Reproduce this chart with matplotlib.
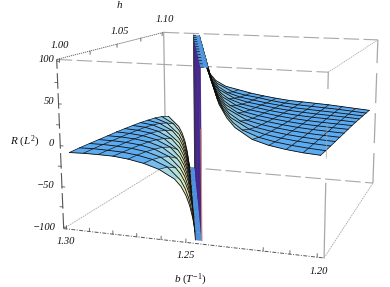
import numpy as np
import matplotlib
matplotlib.use("Agg")
import matplotlib.pyplot as plt
from matplotlib.colors import to_rgba

plt.rcParams["font.family"] = ["Liberation Serif", "DejaVu Serif"]
plt.rcParams["mathtext.fontset"] = "custom"
plt.rcParams["mathtext.rm"] = "Liberation Serif"
plt.rcParams["mathtext.it"] = "Liberation Serif:italic"

# plot box
b_lim = (1.3012, 1.1975)
h_lim = (0.998, 1.102)
r_lim = (-102, 102)

# data
h_rows = [1.0000, 1.0083, 1.0167, 1.0250, 1.0333, 1.0417, 1.0500, 1.0583, 1.0667, 1.0750, 1.0833, 1.0917, 1.1000]
pole_b = [1.2444, 1.2478, 1.2512, 1.2546, 1.2579, 1.2613, 1.2647, 1.2681, 1.2715, 1.2749, 1.2782, 1.2816, 1.2850]
end_left = [1.2470, 1.2504, 1.2538, 1.2571, 1.2605, 1.2639, 1.2673, 1.2706, 1.2740, 1.2774, 1.2808, 1.2841, 1.2875]
end_right = [1.2415, 1.2449, 1.2483, 1.2516, 1.2550, 1.2584, 1.2618, 1.2651, 1.2685, 1.2719, 1.2753, 1.2786, 1.2820]

b_left = [1.2985, 1.2925, 1.2863, 1.2800, 1.2738, 1.2675, 1.2613, 1.2550, 1.2488]
r_left = [
    [-9.0, -8.5, -8.6, -9.0, -11.0, -14.5, -20.0, -30.0, -63.0],
    [-9.0, -8.7, -9.2, -10.0, -12.2, -16.0, -23.6, -42.0, -100],
    [-9.3, -9.2, -9.9, -11.2, -13.9, -19.4, -31.0, -71.0, -100],
    [-9.8, -9.9, -10.7, -12.6, -16.5, -24.5, -45.0, -100, -100],
    [-10.2, -10.5, -11.7, -14.3, -20.0, -32.6, -79.0, -100, -100],
    [-10.5, -11.2, -13.0, -17.0, -25.4, -48.7, -100, -100, -100],
    [-11.2, -12.2, -14.8, -20.9, -34.5, -95.0, -100, -100, -100],
    [-12.0, -13.3, -17.6, -26.6, -52.4, -100, -100, -100, -100],
    [-13.0, -15.2, -21.5, -36.6, -100, -100, -100, -100, -100],
    [-14.5, -18.1, -27.5, -57.5, -100, -100, -100, -100, -100],
    [-16.2, -22.4, -38.6, -100, -100, -100, -100, -100, -100],
    [-19.0, -28.8, -62.8, -100, -100, -100, -100, -100, -100],
    [-23.5, -41.3, -100, -100, -100, -100, -100, -100, -100],
]
# where each h line reaches these R values on its way down to the pole
near_r_left = [-38, -48, -60, -75, -90]
near_b_left = [
    [1.2525, 1.2506, 1.2491, 1.2479, 1.2471],
    [1.2560, 1.2541, 1.2526, 1.2514, 1.2506],
    [1.2593, 1.2574, 1.2559, 1.2547, 1.2539],
    [1.2627, 1.2608, 1.2594, 1.2582, 1.2574],
    [1.2660, 1.2642, 1.2627, 1.2616, 1.2608],
    [1.2695, 1.2676, 1.2662, 1.2650, 1.2642],
    [1.2729, 1.2710, 1.2696, 1.2685, 1.2677],
    [1.2762, 1.2744, 1.2730, 1.2718, 1.2711],
    [1.2797, 1.2778, 1.2764, 1.2753, 1.2745],
    [1.2830, 1.2812, 1.2798, 1.2786, 1.2779],
    [1.2864, 1.2846, 1.2832, 1.2821, 1.2813],
    [1.2897, 1.2879, 1.2866, 1.2854, 1.2847],
    [1.2932, 1.2914, 1.2900, 1.2889, 1.2882],
]

b_right = [1.2000, 1.2063, 1.2125, 1.2188, 1.2250, 1.2313, 1.2375, 1.2438, 1.2500, 1.2563, 1.2625, 1.2688, 1.2750, 1.2813]
r_right = [
    [11.0, 12.3, 14.5, 17.7, 23.0, 34.5, 71.0, 100, 100, 100, 100, 100, 100, 100],
    [10.3, 11.6, 13.4, 16.0, 19.9, 27.0, 43.8, 90.0, 100, 100, 100, 100, 100, 100],
    [9.8, 11.0, 12.6, 14.8, 17.8, 22.7, 32.4, 62.6, 100, 100, 100, 100, 100, 100],
    [9.4, 10.4, 11.8, 13.7, 16.3, 19.8, 26.1, 40.6, 90.0, 100, 100, 100, 100, 100],
    [9.0, 10.0, 11.1, 12.8, 15.1, 18.0, 22.3, 30.9, 54.9, 100, 100, 100, 100, 100],
    [8.6, 9.5, 10.5, 11.9, 14.0, 16.6, 19.7, 25.3, 37.5, 88.6, 100, 100, 100, 100],
    [8.2, 9.0, 10.0, 11.2, 13.0, 15.3, 18.1, 22.0, 29.3, 49.0, 100, 100, 100, 100],
    [7.9, 8.7, 9.5, 10.6, 12.1, 14.2, 17.0, 19.9, 24.8, 35.4, 73.6, 100, 100, 100],
    [7.2, 8.3, 9.2, 10.1, 11.3, 13.2, 15.5, 18.4, 21.8, 28.3, 44.4, 100, 100, 100],
    [6.5, 7.8, 8.7, 9.6, 10.8, 12.3, 14.3, 17.3, 20.0, 24.5, 33.4, 63.9, 100, 100],
    [5.7, 7.0, 8.2, 9.2, 10.2, 11.4, 13.4, 15.7, 18.7, 21.8, 27.3, 41.0, 90.0, 100],
    [4.9, 6.3, 7.7, 8.7, 9.7, 10.8, 12.2, 14.5, 17.7, 20.2, 24.0, 31.8, 55.4, 100],
    [4.0, 5.5, 7.0, 8.5, 9.5, 10.5, 11.5, 13.5, 16.0, 19.0, 23.0, 27.0, 36.0, 90.0],
]
near_r_right = [35, 45, 60, 80]
near_b_right = [
    [1.2315, 1.2345, 1.2375, 1.2396],
    [1.2350, 1.2380, 1.2410, 1.2430],
    [1.2386, 1.2416, 1.2445, 1.2465],
    [1.2421, 1.2451, 1.2479, 1.2499],
    [1.2456, 1.2486, 1.2514, 1.2533],
    [1.2492, 1.2522, 1.2549, 1.2568],
    [1.2527, 1.2557, 1.2584, 1.2602],
    [1.2562, 1.2592, 1.2618, 1.2636],
    [1.2597, 1.2627, 1.2653, 1.2670],
    [1.2633, 1.2663, 1.2688, 1.2705],
    [1.2668, 1.2698, 1.2723, 1.2739],
    [1.2703, 1.2733, 1.2757, 1.2773],
    [1.2739, 1.2769, 1.2792, 1.2807],
]

b_ticks = [1.30, 1.29, 1.28, 1.27, 1.26, 1.25, 1.22, 1.21, 1.20]
h_ticks = [1.000, 1.025, 1.050, 1.075, 1.100]
r_ticks_major = [100, 50, 0, -50, -100]
r_ticks_minor = [75, 25, -25, -75]


def sheet_rows(b_mesh, r_mesh, near_b, near_r, end_b, end_r, r_keep):
    # each h line: flat part on the mesh, then the steep part, padded to equal length
    lines = []
    kept = []
    for i in range(len(r_mesh)):
        pts = []
        for b, r in zip(b_mesh, r_mesh[i]):
            if abs(r) < r_keep and (b - near_b[i][0]) * (b_mesh[0] - near_b[i][0]) > 0:
                pts.append((b, r))
        kept.append(len(pts))
        pts += list(zip(near_b[i], near_r))
        pts.append((end_b[i], end_r))
        lines.append(pts)
    n = max(len(p) for p in lines)
    B = np.array([[q[0] for q in p] + [p[-1][0]] * (n - len(p)) for p in lines])
    R = np.array([[q[1] for q in p] + [p[-1][1]] * (n - len(p)) for p in lines], float)
    return B, R, kept


def slope_colors(B, R, stops, cols):
    # colour each facet by how steep it is along b
    db = np.abs(np.diff(B, axis=1))
    dr = np.abs(np.diff(R, axis=1))
    slope = np.where(db > 1e-6, dr / np.maximum(db, 1e-6), 0.0)
    slope = np.maximum(slope[:-1], slope[1:])
    rgba = np.array([to_rgba(c) for c in cols])
    out = np.zeros(slope.shape + (4,))
    for k in range(4):
        out[..., k] = np.interp(slope, stops, rgba[:, k])
    return out


def mesh_lines(B, H, R, kept, z):
    # h lines all the way, b lines only while they are still on the flat part
    for i in range(B.shape[0]):
        ax.plot(B[i], H[i], R[i], color="#0a0a0a", lw=0.6, zorder=z)
    for j in range(max(kept)):
        idx = [i for i in range(B.shape[0]) if kept[i] > j]
        ax.plot(B[idx, j], H[idx, j], R[idx, j], color="#151515", lw=0.5, zorder=z)


fig = plt.figure(figsize=(3.9, 2.87), dpi=100)
ax = fig.add_subplot(projection="3d", computed_zorder=False)

hh = np.array(h_rows)
rows = len(h_rows)

B_left, R_left, kept_left = sheet_rows(b_left, r_left, near_b_left, near_r_left, end_left, -100, 36)
H_left = np.tile(hh[:, None], (1, B_left.shape[1]))
ax.plot_surface(B_left, H_left, R_left, rstride=1, cstride=1, shade=False, linewidth=0.3,
                facecolors=slope_colors(B_left, R_left,
                                        [0, 700, 1500, 2800, 5000, 9000, 20000],
                                        ["#5aaaf2", "#5fadf0", "#80c2ee", "#a8dae6", "#d2eac4", "#eee6ae", "#c8aa68"]),
                zorder=5)
mesh_lines(B_left, H_left, R_left, kept_left, 5.5)

B_right, R_right, kept_right = sheet_rows(b_right, r_right, near_b_right, near_r_right, end_right, 100, 30)
H_right = np.tile(hh[:, None], (1, B_right.shape[1]))
ax.plot_surface(B_right, H_right, R_right, rstride=1, cstride=1, shade=False, linewidth=0.3,
                facecolors=slope_colors(B_right, R_right,
                                        [0, 700, 1500, 2800, 5000, 10000],
                                        ["#5aaaf2", "#5fadf0", "#72b8ea", "#95cfe0", "#a8c8b8", "#8a9c88"]),
                zorder=6)
mesh_lines(B_right, H_right, R_right, kept_right, 6.5)

# clipped floor, ceiling and the wall through the pole
floor_b = np.array([end_left, pole_b])
floor_h = np.array([h_rows, h_rows])
ax.plot_surface(floor_b, floor_h, np.full((2, rows), -100.0), rstride=1, cstride=1, shade=False,
                color="#4a90dc", edgecolor="#4a90dc", linewidth=0.3, zorder=3)

wall_b = np.array([pole_b, pole_b])
wall_r = np.array([[-100.0] * rows, [100.0] * rows])
ax.plot_surface(wall_b, floor_h, wall_r, rstride=1, cstride=1, shade=False,
                color="#43248a", edgecolor="#43248a", linewidth=0.3, zorder=4)
ax.plot([pole_b[-1]] * 2, [h_rows[-1]] * 2, [-100, 100], color="#333333", lw=0.8, zorder=4.5)
ax.plot([pole_b[0]] * 2, [h_rows[0]] * 2, [-100, 30], color="#d89a80", lw=0.8, zorder=4.5)

ceil_b = np.array([pole_b, end_right])
ax.plot_surface(ceil_b, floor_h, np.full((2, rows), 100.0), rstride=1, cstride=1, shade=False,
                color="#4f96de", edgecolor="#4f96de", linewidth=0.3, zorder=7)
for i in range(rows):
    ax.plot([pole_b[i], pole_b[i] + 0.35 * (end_right[i] - pole_b[i])], [h_rows[i], h_rows[i]], [100, 100],
            color="#101010", lw=0.5, zorder=7.5)

bl, br = b_lim
h0, h1 = h_lim
rb, rt = r_lim
grey = "#a8a8a8"
dark = "#555555"
long_dash = (0, (14, 4))

# back and top edges of the box
ax.plot([bl, br], [h1, h1], [rt, rt], color=grey, lw=0.8, ls=long_dash, zorder=1)
ax.plot([bl, br], [h0, h0], [rt, rt], color=grey, lw=0.8, ls=long_dash, zorder=1)
ax.plot([br, br], [h0, h1], [rt, rt], color=grey, lw=0.6, ls=(0, (1.5, 1)), zorder=1)
ax.plot([bl, br], [h1, h1], [rb, rb], color=grey, lw=0.8, ls=long_dash, zorder=1)
ax.plot([bl, bl], [h0, h1], [rb, rb], color=grey, lw=0.6, ls=(0, (2, 1)), zorder=1)
ax.plot([br, br], [h0, h1], [rb, rb], color=grey, lw=0.6, ls=(0, (2, 1)), zorder=1)
ax.plot([bl, bl], [h1, h1], [rb, rt], color=grey, lw=0.9, zorder=1)
ax.plot([br, br], [h1, h1], [rb, rt], color=grey, lw=0.9, ls=(0, (24, 8)), zorder=1)
ax.plot([br, br], [h0, h0], [rb, -18], color=grey, lw=0.9, zorder=2)
ax.plot([br, br], [h0, h0], [10, 47], color=grey, lw=0.7, zorder=8, alpha=0.7)
ax.plot([br, br], [h0, h0], [85, rt], color=grey, lw=0.9, zorder=2)

# axes with ticks
ax.plot([bl, bl], [h0, h0], [rb, rt], color=dark, lw=0.8, ls=(0, (14, 4)), zorder=2)
ax.plot([bl, br], [h0, h0], [rb, rb], color=dark, lw=0.7, ls=(0, (4, 1.5, 1, 1.5)), zorder=2)
ax.plot([bl, bl], [h0, h1], [rt, rt], color=dark, lw=0.6, ls=(0, (1.5, 1)), zorder=2)
for t in b_ticks:
    ax.plot([t, t], [h0, h0], [rb, rb + 4], color=dark, lw=0.6, zorder=2)
for t in h_ticks:
    ax.plot([bl, bl], [t, t], [rt, rt - 4], color=dark, lw=0.6, zorder=2)
for t in r_ticks_major:
    ax.plot([bl, bl - 0.0012], [h0, h0], [t, t], color=dark, lw=0.6, zorder=2)
for t in r_ticks_minor:
    ax.plot([bl, bl + 0.0012], [h0, h0], [t, t], color=dark, lw=0.6, zorder=2)

ax.set_xlim(*b_lim)
ax.set_ylim(*h_lim)
ax.set_zlim(*r_lim)
ax.set_axis_off()
ax.patch.set_alpha(0)
ax.view_init(elev=12.009, azim=-71.651)
ax.set_proj_type("persp", focal_length=0.4394)
ax.set_box_aspect((1, 1.0034, 0.6412))

# place the axes so the box lands where it is in the picture
S, TX, TY = 2016.98, 231.50, 127.78
vx = ax.viewLim.intervalx
vy = ax.viewLim.intervaly
W = S * (vx[1] - vx[0])
ax.set_position([(TX + S * vx[0]) / 390, (287 - (TY - S * vy[0])) / 287, W / 390, W / 287])


def label(x, y, s, ha="center", size=7.6):
    fig.text(x / 390, 1 - y / 287, s, ha=ha, va="center", fontsize=size, style="italic", color="#111111")


label(119, 6, "h", size=8)
label(60, 46, "1.00")
label(120, 32, "1.05")
label(165, 20, "1.10")
label(54, 59, "100", ha="right")
label(54, 101, "50", ha="right")
label(54, 144, "0", ha="right")
label(54, 185, "\u221250", ha="right")
label(56, 228, "\u2212100", ha="right")
label(25, 142, r"$R\ (L^{2})$", size=8)
label(66, 241, "1.30")
label(186, 256, "1.25")
label(319, 272, "1.20")
label(190, 279.5, r"$b\ (T^{-1})$", size=8)

fig.savefig("out.png", dpi=100)
